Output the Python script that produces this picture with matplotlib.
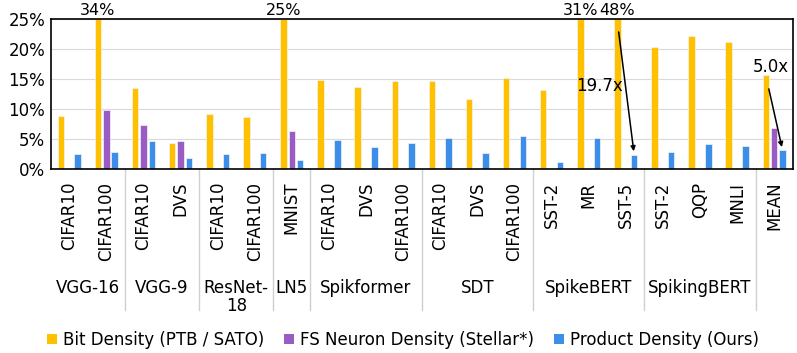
import matplotlib
matplotlib.use('Agg')
import matplotlib.pyplot as plt
import matplotlib.transforms as mtransforms
from matplotlib.patches import Patch
import numpy as np

# datos de la figura
grupos = ['VGG-16', 'VGG-9', 'ResNet-\n18', 'LN5', 'Spikformer', 'SDT', 'SpikeBERT', 'SpikingBERT', '']
tam_grupos = [2, 2, 2, 1, 3, 3, 3, 3, 1]
datasets = ['CIFAR10', 'CIFAR100', 'CIFAR10', 'DVS', 'CIFAR10', 'CIFAR100', 'MNIST',
            'CIFAR10', 'DVS', 'CIFAR100', 'CIFAR10', 'DVS', 'CIFAR100',
            'SST-2', 'MR', 'SST-5', 'SST-2', 'QQP', 'MNLI', 'MEAN']
bit_density = [8.9, 34, 13.5, 4.3, 9.1, 8.6, 25, 14.9, 13.6, 14.7, 14.7, 11.6, 15.2,
               13.2, 31, 48, 20.4, 22.2, 21.2, 15.6]
fs_density = [0, 9.8, 7.3, 4.7, 0, 0, 6.3, 0, 0, 0, 0, 0, 0, 0, 0, 0, 0, 0, 0, 6.8]
product_density = [2.5, 2.8, 4.6, 1.8, 2.5, 2.6, 1.5, 4.8, 3.6, 4.4, 5.1, 2.6, 5.5,
                   1.2, 5.1, 2.4, 2.9, 4.1, 3.9, 3.1]
series = ['Bit Density (PTB / SATO)', 'FS Neuron Density (Stellar*)', 'Product Density (Ours)']
colores = ['#FFC000', '#9A5CC4', '#3D8EE8']
mejoras = [(15, '19.7x'), (19, '5.0x')]

plt.rcParams['font.family'] = 'DejaVu Sans'
fs = 12

fig = plt.figure(figsize=(7.97, 3.53), dpi=100)
ax = fig.add_axes([0.0636, 0.5212, 0.931, 0.425])

x = np.arange(len(datasets))
ancho = 0.175
desp = 0.225
ymax = 25
for i, (vals, col) in enumerate(zip([bit_density, fs_density, product_density], colores)):
    ax.bar(x + (i - 1) * desp, vals, ancho, color=col, edgecolor='#f4f4f4', linewidth=0.5, zorder=2)

# valores recortados
for xi, v in zip(x, bit_density):
    if v >= ymax:
        ax.text(xi - desp, ymax + 0.1, f'{v:.0f}%', ha='center', va='bottom', fontsize=11.5, clip_on=False)

# flechas de mejora
for idx, txt in mejoras:
    xb = idx + desp
    yb = product_density[idx]
    if idx == 15:
        xt, yt = idx - 0.2, 23.3
        ax.text(idx - 0.7, 13.8, txt, ha='center', va='center', fontsize=fs, zorder=4)
    else:
        xt, yt = idx - 0.16, 13.8
        ax.text(idx - 0.08, 17.0, txt, ha='center', va='center', fontsize=fs, zorder=4)
    ax.annotate('', xy=(xb, yb + 0.1), xytext=(xt, yt),
                arrowprops=dict(arrowstyle='-|>', color='black', lw=1.1, mutation_scale=7), zorder=4)

ax.set_xlim(-0.5, len(datasets) - 0.5)
ax.set_ylim(0, ymax)
ax.set_yticks(range(0, 26, 5))
ax.set_yticklabels([f'{t}%' for t in range(0, 26, 5)], fontsize=fs)
ax.set_xticks(x)
ax.set_xticklabels(datasets, rotation=90, fontsize=fs)
ax.tick_params(length=0, pad=9)
ax.tick_params(axis='y', pad=4)
ax.grid(axis='y', color='#d9d9d9', lw=0.8, zorder=0)
for s in ax.spines.values():
    s.set_color('black')
    s.set_linewidth(1.2)

# etiquetas de grupo
trans = mtransforms.blended_transform_factory(ax.transData, ax.transAxes)
inicio = 0
for g, n in zip(grupos, tam_grupos):
    centro = inicio + (n - 1) / 2
    ax.text(centro, -0.73, g, transform=trans, ha='center', va='top', fontsize=fs,
            linespacing=1.05, clip_on=False)
    fin = inicio + n
    if fin < len(datasets):
        ax.plot([fin - 0.5, fin - 0.5], [0, -0.94], transform=trans, color='#d0d0d0',
                lw=1, clip_on=False)
    inicio = fin

handles = [Patch(facecolor=c, edgecolor='none') for c in colores]
fig.legend(handles, series, loc='center', bbox_to_anchor=(0.506, 0.037), ncol=3, frameon=False,
           fontsize=fs, handlelength=0.6, handleheight=0.6, handletextpad=0.35, columnspacing=1.2)

fig.savefig('out.png', dpi=100)
